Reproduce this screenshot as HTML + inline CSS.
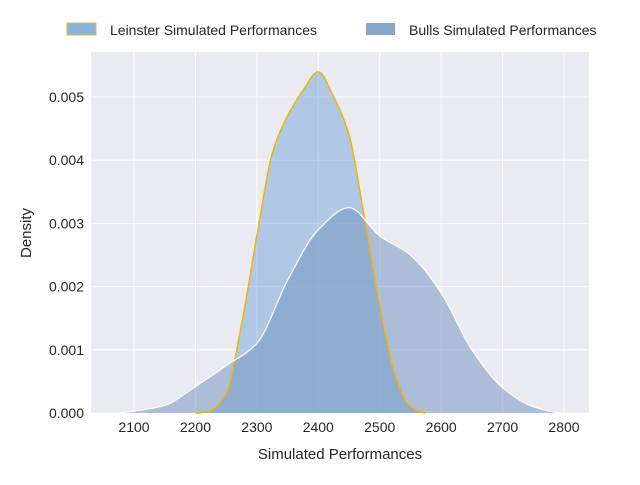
<!DOCTYPE html>
<html><head><meta charset="utf-8"><style>
body{margin:0;background:#fff;font-family:"Liberation Sans",sans-serif}
svg text{font-family:"Liberation Sans",sans-serif;fill:#262626}
</style></head><body>
<svg width="640" height="480" xmlns="http://www.w3.org/2000/svg">
<rect x="91" y="52" width="498" height="361" fill="#eaeaf2"/>
<g id="grid"></g>
<g id="series"></g>
<g id="ticks"></g>
<text x="340" y="459" font-size="15" text-anchor="middle">Simulated Performances</text>
<text x="31" y="233" font-size="15" text-anchor="middle" transform="rotate(-90 31 233)">Density</text>
<g>
<rect x="67" y="23" width="29" height="12" fill="#88b4dc" stroke="#e8b72a" stroke-width="1"/>
<text x="110" y="35" font-size="14">Leinster Simulated Performances</text>
<rect x="366" y="23" width="29" height="12" fill="#88a6ca"/>
<text x="409" y="35" font-size="14">Bulls Simulated Performances</text>
</g>
</svg>
<script>
const xTicks=[2100,2200,2300,2400,2500,2600,2700,2800];
const yTicks=[0,0.001,0.002,0.003,0.004,0.005];
const leinsterX=[2200,2225,2250,2275,2300,2325,2350,2375,2400,2425,2450,2475,2500,2525,2550,2575];
const leinsterY=[0,0.00004,0.0003,0.0014,0.0028,0.0041,0.0047,0.0051,0.0054,0.0050,0.0044,0.0031,0.0017,0.0006,0.0001,0];
const bullsX=[2070,2100,2150,2200,2250,2300,2350,2400,2450,2500,2550,2600,2650,2700,2750,2800];
const bullsY=[0,0.00003,0.00012,0.00042,0.00075,0.0011,0.0021,0.0029,0.00325,0.0028,0.0025,0.0019,0.001,0.0004,0.0001,0];
const NS="http://www.w3.org/2000/svg";
const sx=v=>134+(v-2100)*0.6143;
const sy=v=>413-v*63.2/0.001;
function mk(t,a,p){const e=document.createElementNS(NS,t);for(const k in a)e.setAttribute(k,a[k]);p.appendChild(e);return e;}
const grid=document.getElementById('grid'),ticks=document.getElementById('ticks'),ser=document.getElementById('series');
xTicks.forEach(v=>{const l=mk('line',{x1:sx(v),x2:sx(v),y1:52,y2:413,stroke:'#fff','stroke-width':1},grid);


const t=mk('text',{x:sx(v),y:432,'font-size':14,'text-anchor':'middle'},ticks);t.textContent=v;

});
yTicks.forEach(v=>{const l=mk('line',{x1:91,x2:589,y1:sy(v),y2:sy(v),stroke:'#fff','stroke-width':1},grid);


const t=mk('text',{x:84,y:sy(v)+5,'font-size':14,'text-anchor':'end'},ticks);t.textContent=v.toFixed(3);

});
function path(xs,ys){const p=xs.map((x,i)=>[sx(x),sy(ys[i])]);const n=p.length;
const m=p.map((q,i)=>{if(i===0||i===n-1)return 0;const d0=(p[i][1]-p[i-1][1])/(p[i][0]-p[i-1][0]),d1=(p[i+1][1]-p[i][1])/(p[i+1][0]-p[i][0]);
if(d0*d1<=0)return 0;return 2/(1/d0+1/d1);});
let d='M'+p[0][0]+','+p[0][1];
for(let i=0;i<n-1;i++){const h=(p[i+1][0]-p[i][0])/3;
d+=`C${p[i][0]+h},${p[i][1]+m[i]*h} ${p[i+1][0]-h},${p[i+1][1]-m[i+1]*h} ${p[i+1][0]},${p[i+1][1]}`;}return d;}
const lp=path(leinsterX,leinsterY),bp=path(bullsX,bullsY);
const lf=mk('path',{d:lp+'Z',fill:'rgb(118,166,216)','fill-opacity':0.5},ser);


const bf=mk('path',{d:bp+'Z',fill:'rgb(110,143,190)','fill-opacity':0.5},ser);


const ll=mk('path',{d:lp,fill:'none',stroke:'#f0b400','stroke-width':1.5},ser);


const bl=mk('path',{d:bp,fill:'none',stroke:'#fff','stroke-width':1.2},ser);


</script>
</body></html>
